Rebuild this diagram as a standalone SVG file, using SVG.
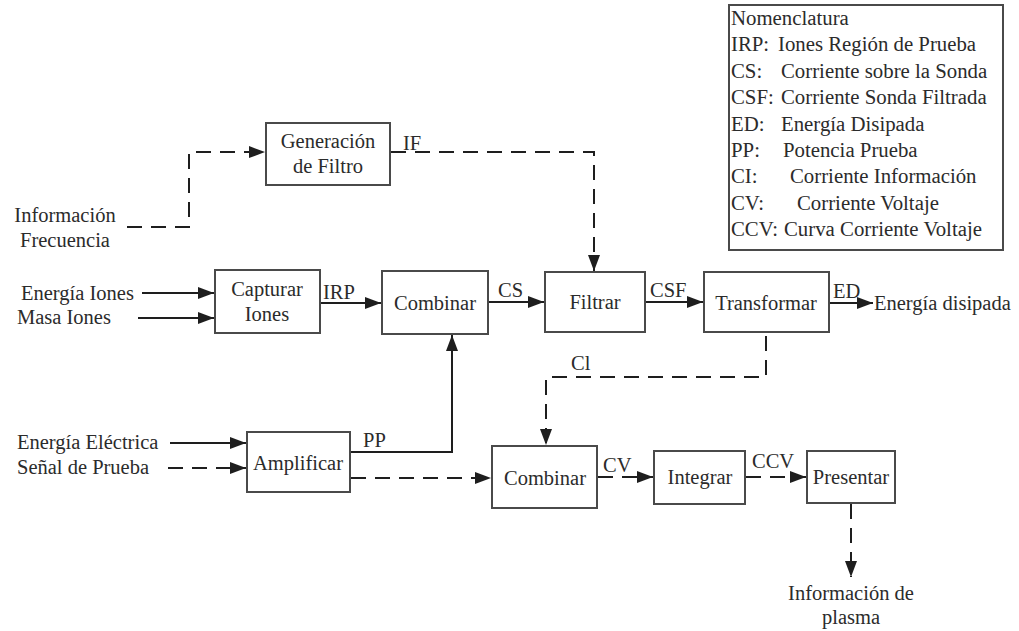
<svg xmlns="http://www.w3.org/2000/svg" width="1019" height="631" viewBox="0 0 1019 631" font-family="Liberation Serif, Times New Roman, Times, serif">
<style>
text{font-size:20.5px;fill:#2b2b2b}
.c{text-anchor:middle}
.lg text{font-size:20.8px}
.box{fill:#fff;stroke:#4a4a4a;stroke-width:2}
.ln{fill:none;stroke:#1e1e1e;stroke-width:2}
.d{stroke-dasharray:15 9}
</style>
<defs>
<marker id="ah" markerUnits="userSpaceOnUse" markerWidth="17" markerHeight="12" refX="16" refY="6" orient="auto">
<path d="M0,0 L16,6 L0,12 z" fill="#1e1e1e"/>
</marker>
</defs>
<rect width="1019" height="631" fill="#fff"/>
<g id="connectors">
<path class="ln d" d="M127,227 H189 V152 H265" marker-end="url(#ah)"/>
<path class="ln d" d="M391,152 H594 V271" marker-end="url(#ah)"/>
<path class="ln" d="M142,293 H214" marker-end="url(#ah)"/>
<path class="ln" d="M138,318 H214" marker-end="url(#ah)"/>
<path class="ln" d="M321,303 H381" marker-end="url(#ah)"/>
<path class="ln" d="M489,302 H544" marker-end="url(#ah)"/>
<path class="ln" d="M646,302 H703" marker-end="url(#ah)"/>
<path class="ln" d="M830,303 H873" marker-end="url(#ah)"/>
<path class="ln" d="M351,452 H452 V335" marker-end="url(#ah)"/>
<path class="ln" d="M170,443 H246" marker-end="url(#ah)"/>
<path class="ln d" d="M168,468 H246" marker-end="url(#ah)"/>
<path class="ln d" d="M351,478 H491" marker-end="url(#ah)"/>
<path class="ln d" d="M766,336 V377 H546 V445" marker-end="url(#ah)"/>
<path class="ln d" d="M598,477 H653" marker-end="url(#ah)"/>
<path class="ln d" d="M746,477 H806" marker-end="url(#ah)"/>
<path class="ln d" d="M851,504 V577" marker-end="url(#ah)"/>
<text x="403" y="150">IF</text>
<text x="323" y="299">IRP</text>
<text x="498" y="297">CS</text>
<text x="650" y="297">CSF</text>
<text x="833" y="298">ED</text>
<text x="363" y="447">PP</text>
<text x="571" y="370">Cl</text>
<text x="603" y="472">CV</text>
<text x="752" y="468">CCV</text>
</g>
<g id="in-frecuencia"><text class="c" x="65" y="222">Información</text><text class="c" x="65" y="247">Frecuencia</text></g>
<g id="in-energia-iones"><text x="21" y="300">Energía Iones</text></g>
<g id="in-masa-iones"><text x="17" y="324">Masa Iones</text></g>
<g id="in-energia-electrica"><text x="17" y="449">Energía Eléctrica</text></g>
<g id="in-senal"><text x="17" y="474">Señal de Prueba</text></g>
<g id="out-energia"><text x="874" y="310">Energía disipada</text></g>
<g id="out-plasma"><text class="c" x="851" y="600">Información de</text><text class="c" x="851" y="624">plasma</text></g>
<g id="generacion"><rect class="box" x="266" y="123" width="124" height="62"/><text class="c" x="328" y="148">Generación</text><text class="c" x="328" y="173">de Filtro</text></g>
<g id="capturar"><rect class="box" x="215" y="270" width="105" height="63"/><text class="c" x="267" y="296">Capturar</text><text class="c" x="267" y="321">Iones</text></g>
<g id="combinar1"><rect class="box" x="382" y="271" width="106" height="63"/><text class="c" x="435" y="310">Combinar</text></g>
<g id="filtrar"><rect class="box" x="545" y="272" width="100" height="60"/><text class="c" x="595" y="309">Filtrar</text></g>
<g id="transformar"><rect class="box" x="704" y="272" width="125" height="60"/><text class="c" x="766" y="310">Transformar</text></g>
<g id="amplificar"><rect class="box" x="247" y="432" width="103" height="60"/><text class="c" x="298" y="470">Amplificar</text></g>
<g id="combinar2"><rect class="box" x="492" y="446" width="105" height="62"/><text class="c" x="545" y="485">Combinar</text></g>
<g id="integrar"><rect class="box" x="654" y="451" width="91" height="53"/><text class="c" x="700" y="484">Integrar</text></g>
<g id="presentar"><rect class="box" x="807" y="451" width="88" height="52"/><text class="c" x="851" y="484">Presentar</text></g>
<g id="nomenclatura" class="lg">
<rect class="box" x="729" y="5" width="274" height="245"/>
<text x="731" y="25">Nomenclatura</text>
<text x="731" y="51.4">IRP:</text><text x="778" y="51.4">Iones Región de Prueba</text>
<text x="731" y="77.8">CS:</text><text x="781" y="77.8">Corriente sobre la Sonda</text>
<text x="731" y="104.2">CSF:</text><text x="781" y="104.2">Corriente Sonda Filtrada</text>
<text x="731" y="130.6">ED:</text><text x="781" y="130.6">Energía Disipada</text>
<text x="731" y="157">PP:</text><text x="783" y="157">Potencia Prueba</text>
<text x="731" y="183.4">CI:</text><text x="790" y="183.4">Corriente Información</text>
<text x="731" y="209.8">CV:</text><text x="797" y="209.8">Corriente Voltaje</text>
<text x="731" y="236.2">CCV:</text><text x="784" y="236.2">Curva Corriente Voltaje</text>
</g>
</svg>
